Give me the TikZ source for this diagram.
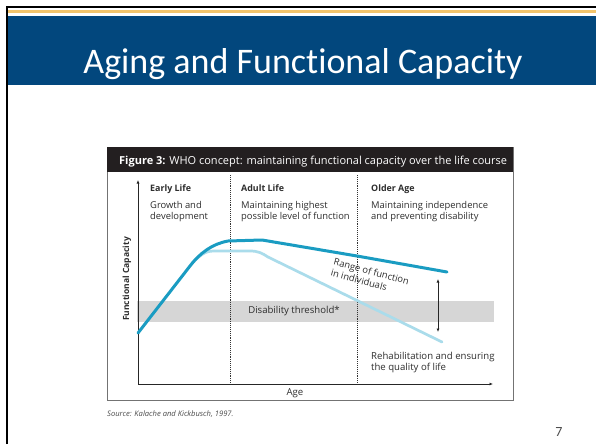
\documentclass[tikz,border=0pt]{standalone}
\usepackage{fontspec}
\setmainfont{Open Sans}
\newfontfamily\titlefont[Ligatures=NoCommon]{Carlito}
\usetikzlibrary{arrows.meta}
\definecolor{bandblue}{HTML}{02477D}
\definecolor{gold}{HTML}{F2C46C}
\definecolor{hdr}{HTML}{231F20}
\definecolor{darkteal}{HTML}{1A9CC2}
\definecolor{lightteal}{HTML}{AADCEB}
\definecolor{band}{HTML}{D6D6D6}
\definecolor{txt}{HTML}{2E2E2E}
\begin{document}
\begin{tikzpicture}[x=1pt,y=-1pt,
  coltitle/.style={anchor=base west,inner sep=0pt,font=\fontsize{8.9}{10}\selectfont\bfseries,text=txt},
  coltext/.style={anchor=north west,inner sep=0pt,align=left,font=\fontsize{9.4}{11}\selectfont,text=txt},
  divider/.style={densely dotted,line width=0.9pt,black!80},
  axis/.style={line width=0.7pt,black!85,-{Latex[length=3.5pt,width=3pt]}},
  curvedark/.style={line width=3pt,darkteal,line join=round,line cap=round},
  curvelight/.style={line width=2.7pt,lightteal,line join=round,line cap=round}]
\useasboundingbox (0,0) rectangle (596,444);
\fill[white] (0,0) rectangle (596,444);
% slide header
\fill[gold] (7,10.5) rectangle (596,13.5);
\fill[bandblue] (7,16) rectangle (596,85);
\draw[line width=2pt,black] (6.5,444) -- (6.5,7.5) -- (596,7.5);
\node[anchor=base,inner sep=0pt,text=white,font=\titlefont\fontsize{36}{40}\selectfont] (title) at (303,73) {Aging and Functional Capacity};
% figure frame
\draw[line width=0.8pt,black!55] (107,147) rectangle (513,400);
\fill[hdr] (107,147) rectangle (513,172);
\node[anchor=base west,inner sep=0pt,text=white,font=\fontsize{11}{12}\selectfont] (figtitle) at (119,164)
  {\textbf{Figure 3:} WHO concept: maintaining functional capacity over the life course};
% disability band
\fill[band] (137,301) rectangle (494,322);
\node[inner sep=0pt,font=\fontsize{9.6}{11}\selectfont,text=txt] (thr) at (294,311.5) {Disability threshold*};
% dividers
\draw[divider] (230,175) -- (230,384);
\draw[divider] (357,175) -- (357,384);
% axes
\coordinate (orig) at (138,384);
\coordinate (ytop) at (138,180);
\coordinate (xend) at (493,384);
\draw[axis] (orig) -- (ytop);
\draw[axis] (orig) -- (xend);
\node[rotate=90,inner sep=0pt,font=\fontsize{8.5}{9}\selectfont\bfseries,text=txt] (ylab) at (127,279) {Functional Capacity};
\node[inner sep=0pt,font=\fontsize{9.6}{11}\selectfont,text=txt] (xlab) at (295,393) {Age};
% column headers
\node[coltitle] (c1) at (150,191.5) {Early Life};
\node[coltext] (c1t) at (150,201) {Growth and\\development};
\node[coltitle] (c2) at (241,191.5) {Adult Life};
\node[coltext] (c2t) at (241,201) {Maintaining highest\\possible level of function};
\node[coltitle] (c3) at (371,191.5) {Older Age};
\node[coltext] (c3t) at (371,201) {Maintaining independence\\and preventing disability};
% curves
\draw[curvelight] (192,263) .. controls (200,256) and (204,251) .. (214,251) -- (250,251) .. controls (258,251) and (262,253) .. (268,257) -- (442,342);
\draw[curvedark] (138,333) -- (190,266) .. controls (200,253) and (212,244) .. (228,241) -- (262,240) -- (357,256) -- (447,272);
% range arrow
\coordinate (ra) at (438,279);
\coordinate (rb) at (438,332);
\draw[line width=0.7pt,black!85,{Latex[length=3.5pt,width=3pt]}-{Latex[length=3.5pt,width=3pt]}] (ra) -- (rb);
\node[rotate=-15,inner sep=0pt,align=left,font=\fontsize{9.4}{11.5}\selectfont,text=txt] (range) at (370,277) {Range of function\\in individuals};
\node[anchor=north west,inner sep=0pt,align=left,font=\fontsize{9.6}{11}\selectfont,text=txt] (rehab) at (371,352) {Rehabilitation and ensuring\\the quality of life};
% source
\node[anchor=base west,inner sep=0pt,font=\fontsize{7.6}{8}\selectfont\itshape,text=black!70] (src) at (107,416) {Source: Kalache and Kickbusch, 1997.};
\node[anchor=base,inner sep=0pt,font=\titlefont\fontsize{14}{15}\selectfont,text=black!70] (pg) at (559,436) {7};
\end{tikzpicture}
\end{document}
